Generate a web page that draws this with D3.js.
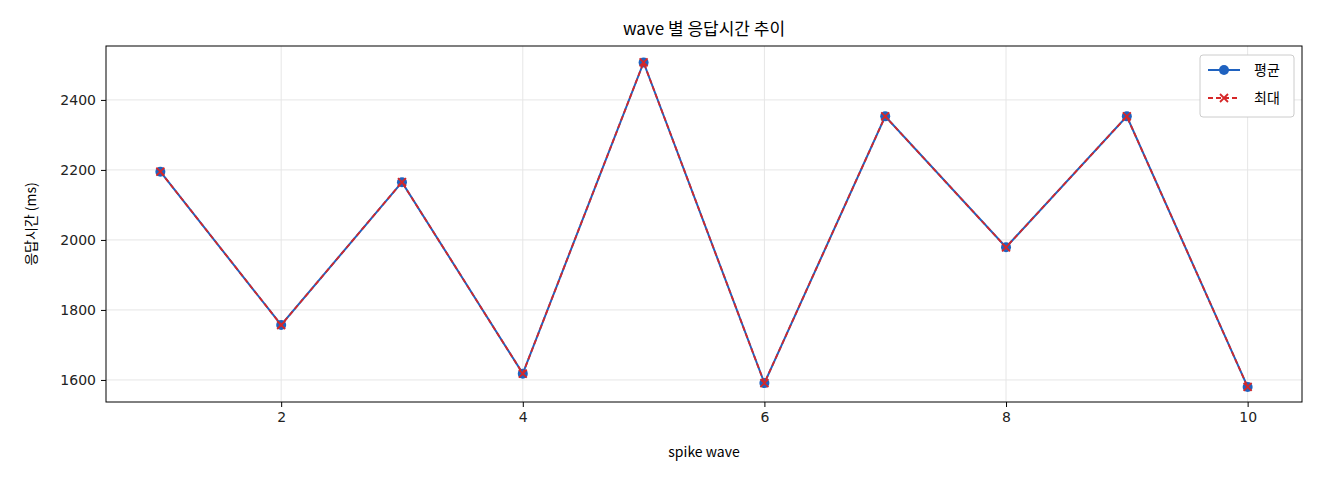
<!DOCTYPE html>
<html><head><meta charset="utf-8">
<script src="https://cdn.jsdelivr.net/npm/d3@7"></script>
<style>body{margin:0;background:#fff;font-family:"Noto Sans CJK KR","DejaVu Sans",sans-serif;}</style>
</head><body>
<script>
// chart data
var waves = [1,2,3,4,5,6,7,8,9,10];
var avgMs = [2195,1757,2165,1618,2507,1591,2353,1979,2353,1580];
var maxMs = [2195,1757,2165,1618,2507,1591,2353,1979,2353,1580];
var xTicks = [2,4,6,8,10];
var yTicks = [1600,1800,2000,2200,2400];

(function(){
var W = 1320, H = 480,
    mLeft = 106, mRight = 1302, mTop = 46, mBottom = 402;

var svg = d3.select("body").append("svg").attr("width", W).attr("height", H);

var x = d3.scaleLinear().domain([0.55,10.45]).range([mLeft,mRight]);
var y = d3.scaleLinear().domain([1537,2554]).range([mBottom,mTop]);

//grid
svg.selectAll(".gx").data(xTicks).enter().append("line")
    .attr("x1", d=>x(d)).attr("x2", d=>x(d)).attr("y1", mTop).attr("y2", mBottom)
    .attr("stroke", "#e6e6e6");
svg.selectAll(".gy").data(yTicks).enter().append("line")
    .attr("x1", mLeft).attr("x2", mRight).attr("y1", d=>y(d)).attr("y2", d=>y(d))
    .attr("stroke", "#e6e6e6");

//axes
svg.append("g").attr("transform","translate(0,"+mBottom+")")
    .call(d3.axisBottom(x).tickValues(xTicks).tickSize(5).tickPadding(5))
    .call(g=>g.select(".domain").remove());
svg.append("g").attr("transform","translate("+mLeft+",0)")
    .call(d3.axisLeft(y).tickValues(yTicks).tickFormat(d3.format("d")).tickSize(5).tickPadding(5))
    .call(g=>g.select(".domain").remove());
svg.selectAll(".tick text").attr("font-size", 14).attr("fill","#222")
    .attr("font-family","'DejaVu Sans',sans-serif");
svg.append("rect").attr("x",mLeft).attr("y",mTop).attr("width",mRight-mLeft).attr("height",mBottom-mTop)
    .attr("fill","none").attr("stroke","#000");

var line = d3.line().x((d,i)=>x(waves[i])).y(d=>y(d));

//avg series
svg.append("path").datum(avgMs).attr("d", line).attr("fill","none")
    .attr("stroke","#1f62c0").attr("stroke-width",2);
svg.selectAll(".pt").data(avgMs).enter().append("circle")
    .attr("cx",(d,i)=>x(waves[i])).attr("cy",d=>y(d)).attr("r",5).attr("fill","#1f62c0");

//max series
svg.append("path").datum(maxMs).attr("d", line).attr("fill","none")
    .attr("stroke","#d62728").attr("stroke-width",1.8).attr("stroke-dasharray","5,3");
svg.selectAll(".xm").data(maxMs).enter().append("path")
    .attr("d", "M-4,-4L4,4M-4,4L4,-4")
    .attr("transform",(d,i)=>"translate("+x(waves[i])+","+y(d)+")")
    .attr("stroke","#d62728").attr("stroke-width",1.8);

//labels
svg.append("text").attr("x",(mLeft+mRight)/2).attr("y",35).attr("text-anchor","middle")
    .attr("font-size",17).text("wave 별 응답시간 추이");
svg.append("text").attr("x",(mLeft+mRight)/2).attr("y",457).attr("text-anchor","middle")
    .attr("font-size",14).text("spike wave");
svg.append("text").attr("transform","translate(36,"+((mTop+mBottom)/2)+") rotate(-90)")
    .attr("text-anchor","middle").attr("font-size",14).text("응답시간 (ms)");

//legend
var lg = svg.append("g").attr("transform","translate(1200,55)");
lg.append("rect").attr("width",94).attr("height",62).attr("rx",3)
    .attr("fill","#fff").attr("stroke","#ccc");
lg.append("line").attr("x1",8).attr("x2",40).attr("y1",15).attr("y2",15).attr("stroke","#1f62c0").attr("stroke-width",2);
lg.append("circle").attr("cx",24).attr("cy",15).attr("r",5).attr("fill","#1f62c0");
lg.append("text").attr("x",54).attr("y",20).attr("font-size",14).text("평균");
lg.append("line").attr("x1",8).attr("x2",40).attr("y1",43).attr("y2",43).attr("stroke","#d62728")
    .attr("stroke-width",1.8).attr("stroke-dasharray","5,3");
lg.append("path").attr("d","M20,39L28,47M20,47L28,39").attr("stroke","#d62728").attr("stroke-width",1.8);
lg.append("text").attr("x",54).attr("y",48).attr("font-size",14).text("최대");
})();
</script>
</body></html>
